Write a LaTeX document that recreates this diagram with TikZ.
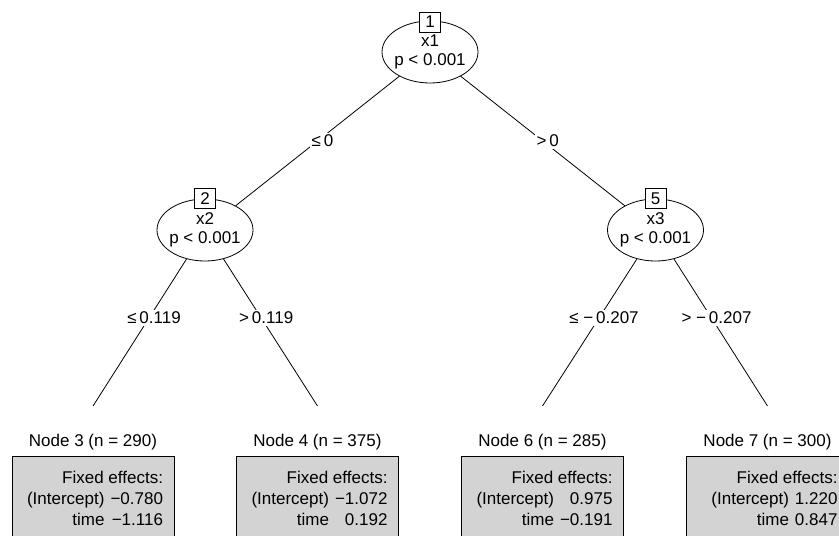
\documentclass[tikz,border=0pt]{standalone}
\usepackage{fontspec}
\setmainfont{Liberation Sans}
\usetikzlibrary{shapes.geometric,positioning,calc}
\definecolor{leafgray}{HTML}{D3D3D3}

\begin{document}
\begin{tikzpicture}[x=1pt, y=-1pt, line width=0.8pt,
	every node/.style = {align=center, font=\fontsize{17}{19.5}\selectfont},
	Split/.style = {draw, ellipse, fill=white, minimum width=96pt, minimum height=62pt, inner sep=0pt},
	Id/.style = {draw, fill=white, minimum width=21pt, minimum height=20pt, inner sep=0pt},
	Cut/.style = {fill=white, inner sep=1.5pt, xshift=5pt},
	Leaf/.style = {draw, fill=leafgray, anchor=north, minimum width=162pt, minimum height=100pt},
	Coef/.style = {anchor=north east, inner sep=0pt, font=\fontsize{17}{21}\selectfont},
	ts/.style = {xshift=-11pt, yshift=-12pt}
]
\useasboundingbox (0,0) rectangle (839,536);
\clip (0,0) rectangle (839,536);

% inner nodes
\node[Split] (n1) at (430,52) {};
\node        (t1) at (n1) {x1\\p < 0.001};
\node[Id]    (i1) at ([yshift=-1.5pt] n1.north) {1};
\node[Split] (n2) at (205,230) {};
\node        (t2) at (n2) {x2\\p < 0.001};
\node[Id]    (i2) at (n2.north) {2};
\node[Split] (n5) at (655.5,230) {};
\node        (t5) at (n5) {x3\\p < 0.001};
\node[Id]    (i5) at (n5.north) {5};

% leaves
\coordinate (l3) at (93,406);
\coordinate (l4) at (317.5,406);
\coordinate (l6) at (542.5,406);
\coordinate (l7) at (767.5,406);
\node (h3) at (93,442)    {Node 3 (n = 290)};
\node (h4) at (317.5,442) {Node 4 (n = 375)};
\node (h6) at (542.5,442) {Node 6 (n = 285)};
\node (h7) at (767.5,442) {Node 7 (n = 300)};
\node[Leaf] (b3) at (93,456)    {};
\node[Leaf] (b4) at (317.5,456) {};
\node[Leaf] (b6) at (542.5,456) {};
\node[Leaf] (b7) at (767.5,456) {};
\node[Coef] (c3) at ([ts] b3.north east) {\begin{tabular}{@{}r@{\hspace{6pt}}r@{}}
	\multicolumn{2}{@{}r@{}}{Fixed effects:}\\ (Intercept) & −0.780\\ time & −1.116\end{tabular}};
\node[Coef] (c4) at ([ts] b4.north east) {\begin{tabular}{@{}r@{\hspace{6pt}}r@{}}
	\multicolumn{2}{@{}r@{}}{Fixed effects:}\\ (Intercept) & −1.072\\ time & 0.192\end{tabular}};
\node[Coef] (c6) at ([ts] b6.north east) {\begin{tabular}{@{}r@{\hspace{6pt}}r@{}}
	\multicolumn{2}{@{}r@{}}{Fixed effects:}\\ (Intercept) & 0.975\\ time & −0.191\end{tabular}};
\node[Coef] (c7) at ([ts] b7.north east) {\begin{tabular}{@{}r@{\hspace{6pt}}r@{}}
	\multicolumn{2}{@{}r@{}}{Fixed effects:}\\ (Intercept) & 1.220\\ time & 0.847\end{tabular}};

% edges
\draw (n1) -- (n2);
\draw (n1) -- (n5);
\draw (n2) -- (l3);
\draw (n2) -- (l4);
\draw (n5) -- (l6);
\draw (n5) -- (l7);
\node[Cut] (e2) at ($(n1)!.5!(n2)$) {≤\,0};
\node[Cut] (e5) at ($(n1)!.5!(n5)$) {>\,0};
\node[Cut] (e3) at ($(n2)!.5!(l3)$) {≤\,0.119};
\node[Cut] (e4) at ($(n2)!.5!(l4)$) {>\,0.119};
\node[Cut] (e6) at ($(n5)!.5!(l6)$) {≤ −\,0.207};
\node[Cut] (e7) at ($(n5)!.5!(l7)$) {> −\,0.207};
\end{tikzpicture}
\end{document}
